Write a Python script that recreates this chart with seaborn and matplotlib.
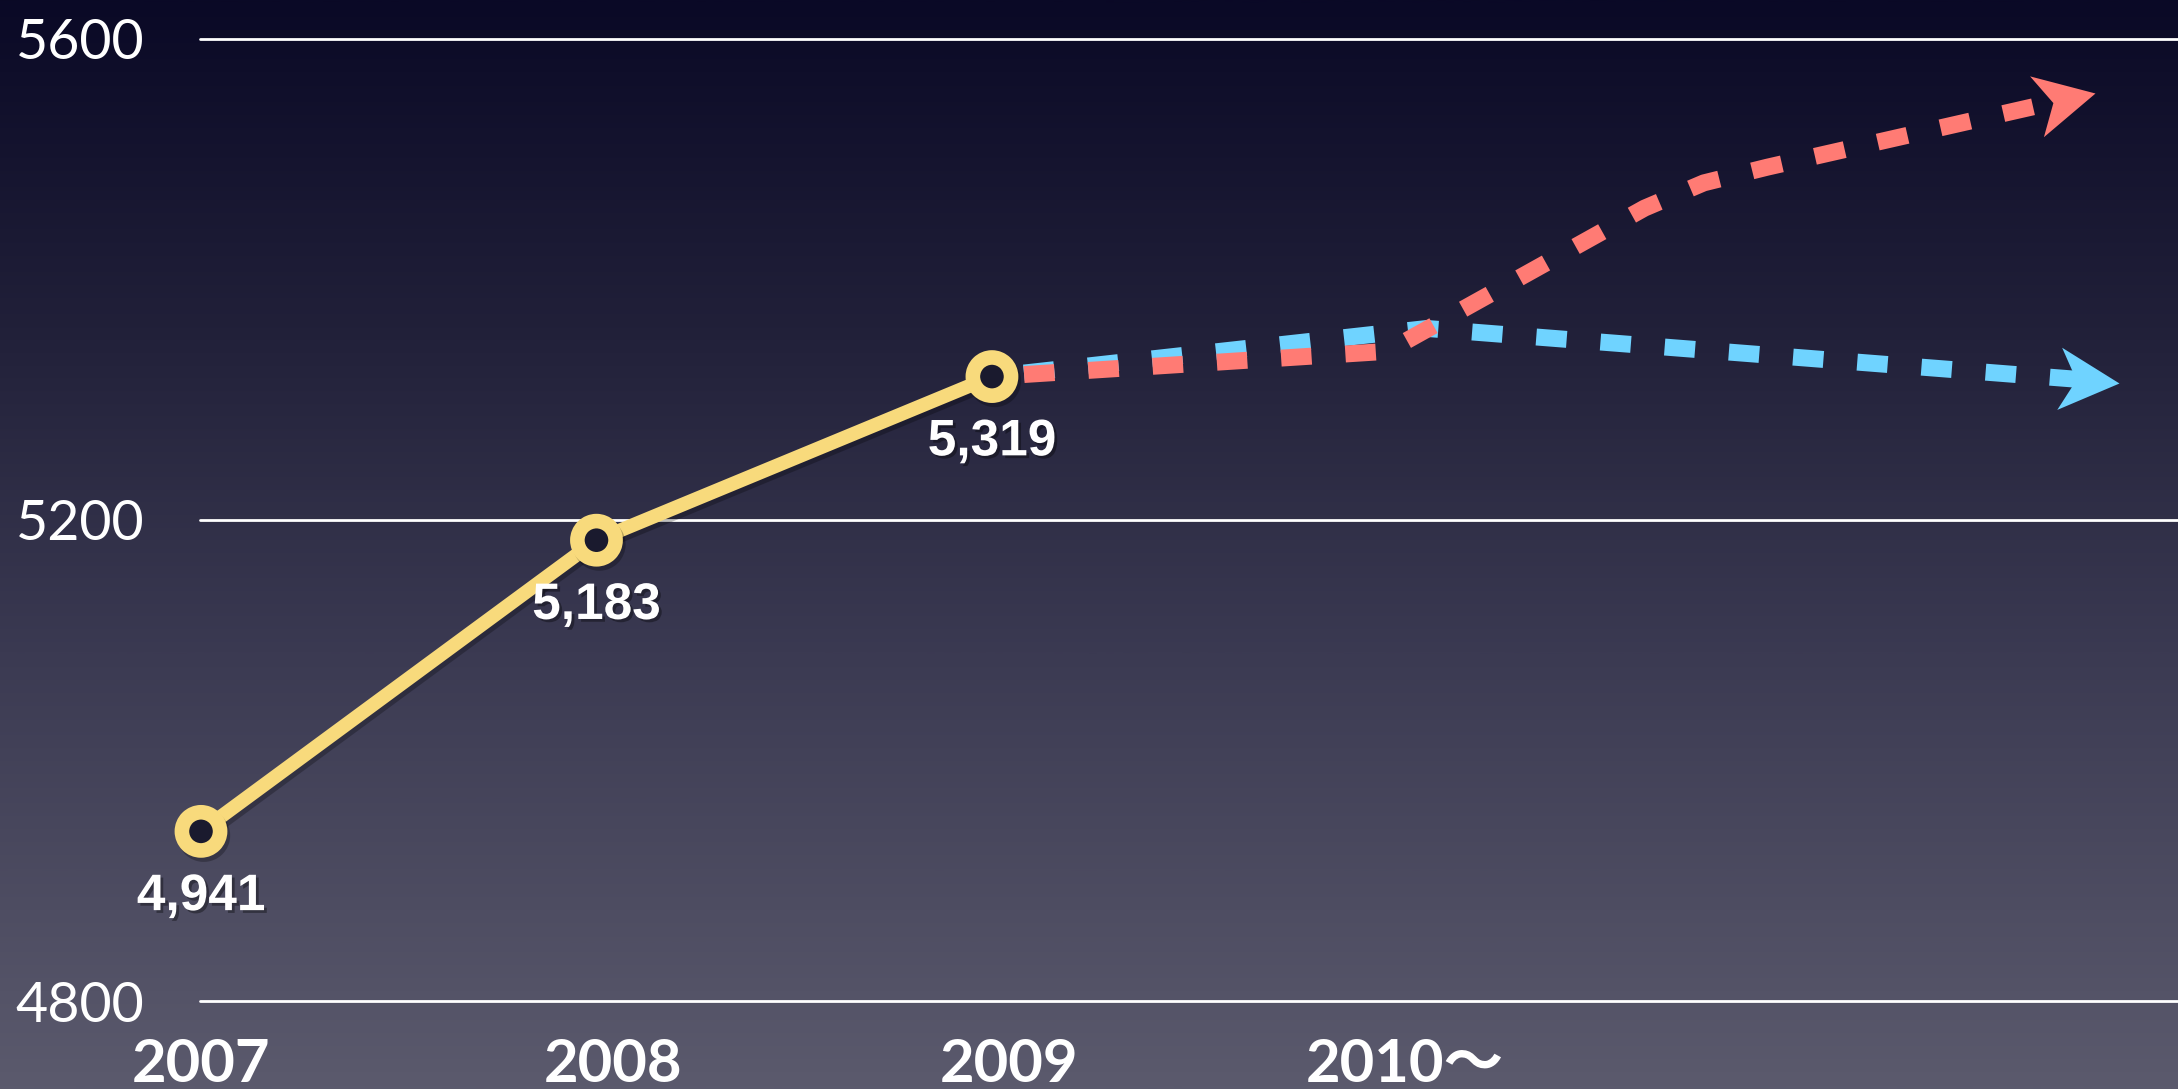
import numpy as np
import pandas as pd
import matplotlib
matplotlib.use("Agg")
import matplotlib.pyplot as plt
import seaborn as sns
from matplotlib.path import Path
from matplotlib.markers import MarkerStyle
from matplotlib.transforms import Affine2D, ScaledTranslation
from matplotlib.colors import LinearSegmentedColormap
import matplotlib.patheffects as pe

# ---- data -------------------------------------------------------------
year_labels = ["2007", "2008", "2009", "2010〜"]
year_pos = [0, 1, 2, 3]

actual_pos = [0, 1, 2]
actual_vals = [4941, 5183, 5319]

y_ticks = [4800, 5200, 5600]

# optimistic scenario (red) and flat / declining scenario (blue), both from 2009
high_pos = [2.0, 3.0, 3.65, 3.8, 3.96, 4.79]
high_vals = [5319, 5340, 5459, 5480, 5493, 5555]
low_pos = [2.0, 3.1, 4.85]
low_vals = [5319, 5359, 5314]

# ---- style ------------------------------------------------------------
sns.set_theme(style="white")
plt.rcParams["font.family"] = ["Lato", "DejaVu Sans", "Noto Sans CJK JP"]

YELLOW = "#F8DA7C"
RED = "#FF7B74"
BLUE = "#6FD3FF"
HOLE = "#1a1a2e"

W, H, DPI = 2178, 1089, 100
fig = plt.figure(figsize=(W / DPI, H / DPI), dpi=DPI)

# vertical background gradient
bg = fig.add_axes([0, 0, 1, 1], zorder=0)
cmap = LinearSegmentedColormap.from_list(
    "bg", [(0.0, "#0a0926"), (0.3, "#212039"), (0.6, "#3b3a52"), (1.0, "#5b5a6d")]
)
grad = np.linspace(0, 1, 512).reshape(-1, 1)
bg.imshow(grad, aspect="auto", cmap=cmap, extent=[0, 1, 0, 1], origin="upper")
bg.set_axis_off()

# plotting area
left, right = 200 / W, 1.0
bottom, top = 1 - 1001 / H, 1 - 38.5 / H
ax = fig.add_axes([left, bottom, right - left, top - bottom], zorder=1)
ax.patch.set_alpha(0)
ax.set_xlim(-0.0025, 4.999)
ax.set_ylim(4800, 5600)
for s in ax.spines.values():
    s.set_visible(False)

# horizontal reference lines
for v in y_ticks:
    ax.axhline(v, color="white", lw=2.0, clip_on=False, zorder=1)

shadow_line = [pe.SimpleLineShadow(offset=(2, -3), shadow_color="black", alpha=0.25), pe.Normal()]

HEAD_PX = 60  # arrow head length in pixels


def end_inside_head(line, back_px):
    """Pull the last vertex of a dashed line back so it ends inside the arrow head."""
    xs, ys = (np.asarray(a, dtype=float).copy() for a in line.get_data())
    p0 = ax.transData.transform((xs[-2], ys[-2]))
    p1 = ax.transData.transform((xs[-1], ys[-1]))
    d = (p1 - p0) / np.hypot(*(p1 - p0))
    nx, ny = ax.transData.inverted().transform(p1 - d * back_px)
    xs[-1], ys[-1] = nx, ny
    line.set_data(xs, ys)


def dashed(xs, ys, color, z):
    sns.lineplot(x=xs, y=ys, ax=ax, color=color, linewidth=12.2, sort=False, zorder=z)
    ln = ax.lines[-1]
    ln.set_linestyle((1.9, (1.8, 2.0)))
    ln.set_dash_capstyle("butt")
    end_inside_head(ln, 0.62 * HEAD_PX)


# stealth-style arrow head, tip at the marker origin
head = Path([(0, 0), (-1, 0.52), (-0.72, 0), (-1, -0.52), (0, 0)],
            [Path.MOVETO, Path.LINETO, Path.LINETO, Path.LINETO, Path.CLOSEPOLY])


def arrow_head(xs, ys, color, z):
    p0 = ax.transData.transform((xs[-2], ys[-2]))
    p1 = ax.transData.transform((xs[-1], ys[-1]))
    ang = np.arctan2(p1[1] - p0[1], p1[0] - p0[0])
    m = MarkerStyle(head, transform=Affine2D().rotate(ang))
    ax.plot([xs[-1]], [ys[-1]], marker=m, markersize=2 * HEAD_PX * 72 / DPI, color=color,
            markeredgewidth=0, linestyle="none", clip_on=False, zorder=z)


# forecast scenarios (dashed, red drawn over blue)
dashed(low_pos, low_vals, BLUE, 3)
arrow_head(low_pos, low_vals, BLUE, 3)
dashed(high_pos, high_vals, RED, 4)
arrow_head(high_pos, high_vals, RED, 4)

# actual values
sns.lineplot(x=actual_pos, y=actual_vals, ax=ax, color=YELLOW, linewidth=10,
             marker="o", markersize=27.5, markeredgewidth=10.5,
             markerfacecolor=HOLE, markeredgecolor=YELLOW, zorder=5)
ax.lines[-1].set_clip_on(False)
ax.lines[-1].set_path_effects(shadow_line)

txt_shadow = [pe.withSimplePatchShadow(offset=(2, -2), shadow_rgbFace="black", alpha=0.35)]
for xp, v in zip(actual_pos, actual_vals):
    ax.annotate(f"{v:,}", (xp, v), xytext=(0, -47), textcoords="offset points",
                ha="center", va="center", fontsize=37, fontweight="bold",
                family=["Liberation Sans", "DejaVu Sans"], color="white",
                zorder=6, path_effects=txt_shadow, annotation_clip=False)

# axis labels
ax.set_yticks(y_ticks)
ax.set_yticklabels([str(v) for v in y_ticks], fontsize=40, color="white")
ax.set_xticks(year_pos)
ax.set_xticklabels(year_labels, fontsize=43, color="white", fontweight="bold")
ax.tick_params(axis="y", length=0, pad=40)
ax.tick_params(axis="x", length=0, pad=27)
ax.grid(False)

# the later year labels sit a little right of their points
for lbl in ax.get_xticklabels()[1:]:
    lbl.set_transform(lbl.get_transform() + ScaledTranslation(17 / DPI, 0, fig.dpi_scale_trans))

fig.savefig("out.png", dpi=DPI)
